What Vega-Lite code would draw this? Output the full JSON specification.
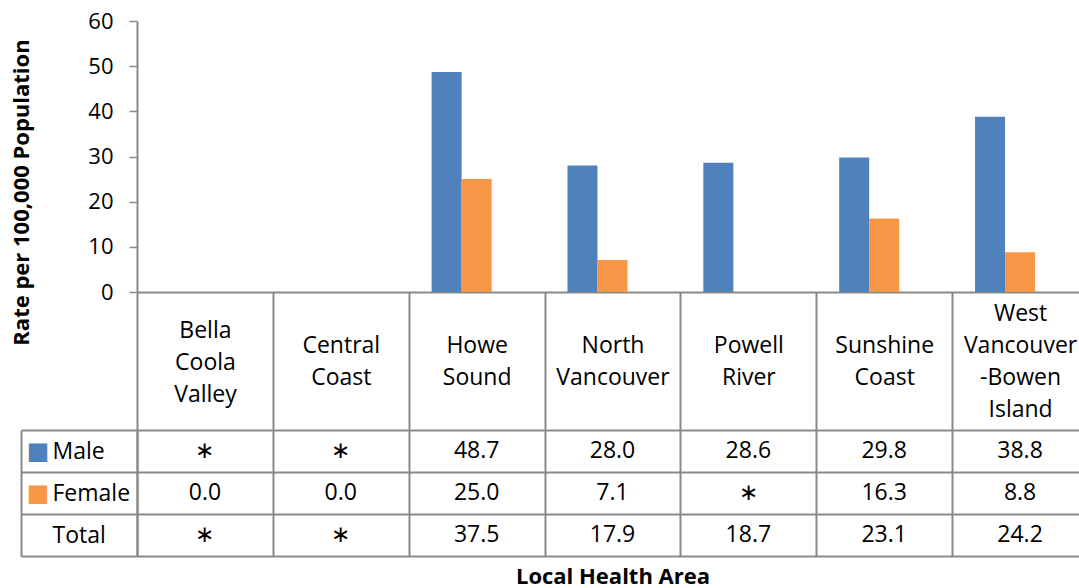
{
  "$schema": "https://vega.github.io/schema/vega-lite/v6.json",
  "padding": {"left": 10, "top": 10, "right": 0, "bottom": 8},
  "bounds": "flush",
  "spacing": 138,
  "config": {"font": "Open Sans", "view": {"stroke": null}},
  "datasets": {
    "rows": [
      {"area": "Bella Coola Valley", "sex": "Male", "value": null, "label": "∗"},
      {"area": "Bella Coola Valley", "sex": "Female", "value": 0, "label": "0.0"},
      {"area": "Bella Coola Valley", "sex": "Total", "value": null, "label": "∗"},
      {"area": "Central Coast", "sex": "Male", "value": null, "label": "∗"},
      {"area": "Central Coast", "sex": "Female", "value": 0, "label": "0.0"},
      {"area": "Central Coast", "sex": "Total", "value": null, "label": "∗"},
      {"area": "Howe Sound", "sex": "Male", "value": 48.7, "label": "48.7"},
      {"area": "Howe Sound", "sex": "Female", "value": 25.0, "label": "25.0"},
      {"area": "Howe Sound", "sex": "Total", "value": 37.5, "label": "37.5"},
      {"area": "North Vancouver", "sex": "Male", "value": 28.0, "label": "28.0"},
      {"area": "North Vancouver", "sex": "Female", "value": 7.1, "label": "7.1"},
      {"area": "North Vancouver", "sex": "Total", "value": 17.9, "label": "17.9"},
      {"area": "Powell River", "sex": "Male", "value": 28.6, "label": "28.6"},
      {"area": "Powell River", "sex": "Female", "value": null, "label": "∗"},
      {"area": "Powell River", "sex": "Total", "value": 18.7, "label": "18.7"},
      {"area": "Sunshine Coast", "sex": "Male", "value": 29.8, "label": "29.8"},
      {"area": "Sunshine Coast", "sex": "Female", "value": 16.3, "label": "16.3"},
      {"area": "Sunshine Coast", "sex": "Total", "value": 23.1, "label": "23.1"},
      {"area": "West Vancouver-Bowen Island", "sex": "Male", "value": 38.8, "label": "38.8"},
      {"area": "West Vancouver-Bowen Island", "sex": "Female", "value": 8.8, "label": "8.8"},
      {"area": "West Vancouver-Bowen Island", "sex": "Total", "value": 24.2, "label": "24.2"}
    ]
  },
  "vconcat": [
    {
      "width": 951,
      "height": 271,
      "data": {"name": "rows"},
      "mark": {"type": "bar"},
      "encoding": {
        "x": {
          "field": "area", "type": "nominal",
          "sort": ["Bella Coola Valley", "Central Coast", "Howe Sound", "North Vancouver", "Powell River", "Sunshine Coast", "West Vancouver-Bowen Island"],
          "scale": {"paddingInner": 0, "paddingOuter": 0},
          "axis": {
            "title": null,
            "labelExpr": "datum.value == 'Bella Coola Valley' ? ['Bella', 'Coola', 'Valley'] : datum.value == 'West Vancouver-Bowen Island' ? ['West', 'Vancouver', '-Bowen', 'Island'] : datum.value ? split(datum.value, ' ') : ''",
            "labelAngle": 0,
            "labelFont": "Open Sans",
            "labelFontSize": 23,
            "labelLineHeight": 32,
            "labelBaseline": "middle",
            "labelPadding": {"condition": [{"test": "datum.value == 'Bella Coola Valley'", "value": -100}, {"test": "datum.value == 'West Vancouver-Bowen Island'", "value": -117}], "value": -85},
            "labelColor": "#000000",
            "labelOverlap": false,
            "labelBound": false,
            "labelFlush": false,
            "labelLimit": 300,
            "tickBand": "extent",
            "tickSize": 138,
            "tickColor": "#898989",
            "tickWidth": 2,
            "domainColor": "#898989",
            "domainWidth": 2
          }
        },
        "xOffset": {
          "field": "sex", "type": "nominal",
          "scale": {"domain": ["Male", "Female", "Total"], "paddingInner": 0, "paddingOuter": 0.763}
        },
        "y": {
          "field": "value", "type": "quantitative",
          "scale": {"domain": [0, 60]},
          "axis": {
            "values": [0, 10, 20, 30, 40, 50, 60],
            "grid": false,
            "title": "Rate per 100,000 Population",
            "titleFont": "Open Sans",
            "titleFontSize": 22,
            "titleFontWeight": "bold",
            "titleColor": "#000000",
            "titleX": -116,
            "titleY": 171,
            "titleAngle": 270,
            "titleAlign": "center",
            "titleBaseline": "middle",
            "labelFont": "Open Sans",
            "labelFontSize": 22,
            "labelColor": "#000000",
            "labelPadding": 16,
            "tickSize": 8,
            "tickColor": "#898989",
            "tickWidth": 1.5,
            "domainColor": "#898989",
            "domainWidth": 2
          }
        },
        "color": {
          "field": "sex", "type": "nominal",
          "scale": {"domain": ["Male", "Female", "Total"], "range": ["#4F81BD", "#F79646", "transparent"]},
          "legend": null
        }
      }
    },
    {
      "width": 951,
      "height": 126,
      "data": {"name": "rows"},
      "layer": [
        {
          "mark": {"type": "text", "font": "Open Sans", "fontSize": 23, "color": "#000000", "baseline": "middle"},
          "encoding": {
            "x": {
              "field": "area", "type": "nominal",
              "sort": ["Bella Coola Valley", "Central Coast", "Howe Sound", "North Vancouver", "Powell River", "Sunshine Coast", "West Vancouver-Bowen Island"],
              "scale": {"paddingInner": 0, "paddingOuter": 0},
              "axis": {
                "title": "Local Health Area",
                "titleFont": "Open Sans",
                "titleFontSize": 22,
                "titleFontWeight": "bold",
                "titleColor": "#000000",
                "titlePadding": 10,
                "labels": false,
                "ticks": false,
                "domain": false,
                "grid": true,
                "tickBand": "extent",
                "gridColor": "#898989",
                "gridWidth": 2,
                "gridOpacity": 1
              }
            },
            "y": {
              "field": "sex", "type": "nominal",
              "sort": ["Male", "Female", "Total"],
              "scale": {"paddingInner": 0, "paddingOuter": 0},
              "axis": {
                "title": null,
                "orient": "left",
                "grid": true,
                "gridColor": "#898989",
                "gridWidth": 2,
                "gridOpacity": 1,
                "tickBand": "extent",
                "tickSize": 116,
                "tickColor": "#898989",
                "tickWidth": 2,
                "domain": true,
                "domainColor": "#898989",
                "domainWidth": 2,
                "labelExpr": "(datum.value == 'Male' || datum.value == 'Female') ? '■' : ''",
                "labelFont": "DejaVu Sans",
                "labelFontSize": 24,
                "labelColor": {"condition": {"test": "datum.value == 'Male'", "value": "#4F81BD"}, "value": "#F79646"},
                "labelAlign": "center",
                "labelBaseline": "middle",
                "labelPadding": -16.5
              }
            },
            "text": {"field": "label", "type": "nominal"}
          }
        },
        {
          "mark": {"type": "text", "opacity": 0},
          "encoding": {
            "y": {
              "field": "sex", "type": "nominal",
              "sort": ["Male", "Female", "Total"],
              "scale": {"paddingInner": 0, "paddingOuter": 0},
              "axis": {
                "title": null,
                "orient": "left",
                "offset": 116,
                "grid": false,
                "ticks": false,
                "domain": true,
                "domainColor": "#898989",
                "domainWidth": 2,
                "labelFont": "Open Sans",
                "labelFontSize": 23,
                "labelColor": "#000000",
                "labelAlign": "left",
                "labelBaseline": "middle",
                "labelPadding": -31
              }
            },
            "text": {"value": ""}
          }
        }
      ],
      "resolve": {"scale": {"y": "independent"}, "axis": {"y": "independent"}}
    }
  ]
}
